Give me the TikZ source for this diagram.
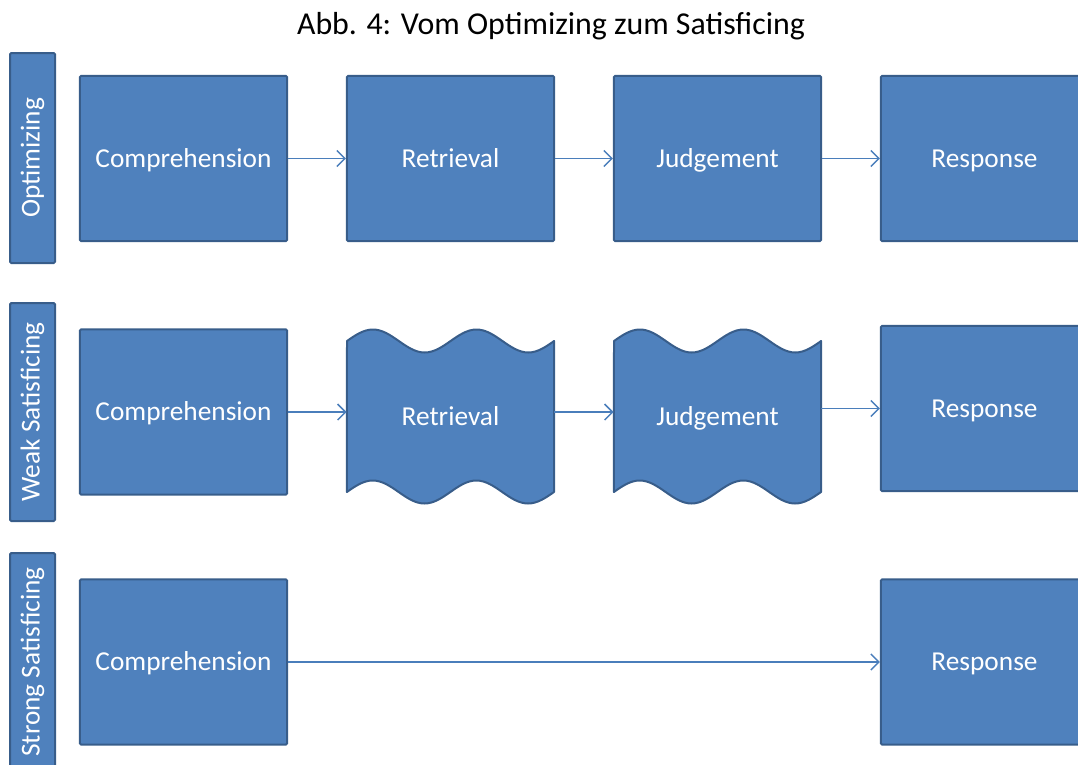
\documentclass[tikz,border=0pt]{standalone}
\usepackage{fontspec}
\setmainfont{Carlito}
\usetikzlibrary{arrows.meta}
\definecolor{boxfill}{HTML}{4F81BD}
\definecolor{boxline}{HTML}{385D8A}
\definecolor{linkcol}{HTML}{4A7EBB}
\tikzset{
  stage/.style={fill=boxfill, draw=boxline, line width=1.5pt, rounded corners=1pt,
    text=white, font=\fontsize{20.5}{24}\selectfont, inner sep=0pt},
  stagebox/.style={stage, minimum width=155.5pt, minimum height=124pt,
    text height=13.2pt, text depth=0pt},
  phase/.style={stage, rotate=90, minimum width=#1, minimum height=33.75pt},
  hidden/.style={inner sep=0pt, text=white, font=\fontsize{20.5}{24}\selectfont,
    minimum width=155.5pt, minimum height=113pt, text height=13.2pt, text depth=0pt},
  link/.style={draw=linkcol, line width=1.1pt, -{Straight Barb[length=6pt,width=12pt,line width=1.1pt]}},
  wavyshape/.style={fill=boxfill, draw=boxline, line width=1.5pt, line join=round}
}
% punched-tape outline, #1 = left edge, #2 = top midline, #3 = bottom midline
\newcommand{\tapeshape}[3]{%
  \path[wavyshape]
    (#1,#2) sin ++(25.9,-11.5) cos ++(25.9,11.5) sin ++(25.9,11.5) cos ++(25.9,-11.5)
            sin ++(25.9,-11.5) cos ++(25.9,11.5) sin ++(25.9,11.5) cos ++(25.8,-11.5)
    -- (#1+207,#3)
    sin ++(-25.9,11.5) cos ++(-25.9,-11.5) sin ++(-25.9,-11.5) cos ++(-25.9,11.5)
    sin ++(-25.9,11.5) cos ++(-25.9,-11.5) sin ++(-25.9,-11.5) cos ++(-25.8,11.5)
    -- cycle;}
\begin{document}
\begin{tikzpicture}[x=0.75pt, y=-0.75pt]
\useasboundingbox (0,0) rectangle (1078,764);
\clip (0,0) rectangle (1078,764);

% title
\node[anchor=base, font=\fontsize{23.9}{28}\selectfont] (title) at (551,34)
  {Abb. 4: Vom Optimizing zum Satisficing};

% phase bars
\node[phase=157.5pt] (p1) at (32.5,158) {Optimizing};
\node[phase=163.5pt] (p2) at (32.5,412) {Weak Satisficing};
\node[phase=163.5pt] (p3) at (32.5,662) {Strong Satisficing};

% row 1: optimizing
\node[stagebox] (c1) at (183.5,158.5) {Comprehension};
\node[stagebox] (r1) at (450.5,158.5) {Retrieval};
\node[stagebox] (j1) at (717.5,158.5) {Judgement};
\node[stagebox] (s1) at (984.5,158.5) {Response};
\draw[link] (c1) -- (r1);
\draw[link] (r1) -- (j1);
\draw[link] (j1) -- (s1);

% row 2: weak satisficing
\node[stagebox] (c2) at (183.5,412) {Comprehension};
\tapeshape{347}{341}{492}
\tapeshape{614}{341}{492}
\node[hidden] (r2) at (450.5,417) {Retrieval};
\node[hidden] (j2) at (717.5,417) {Judgement};
\node[stagebox] (s2) at (984.5,408.5) {Response};
\draw[link] (c2.east) -- (c2.east -| r2.west);
\draw[link] (r2.east |- c2.east) -- (c2.east -| j2.west);
\draw[link] (j2.east |- s2.west) -- (s2.west);

% row 3: strong satisficing
\node[stagebox] (c3) at (183.5,662) {Comprehension};
\node[stagebox] (s3) at (984.5,662) {Response};
\draw[link] (c3) -- (s3);
\end{tikzpicture}
\end{document}
